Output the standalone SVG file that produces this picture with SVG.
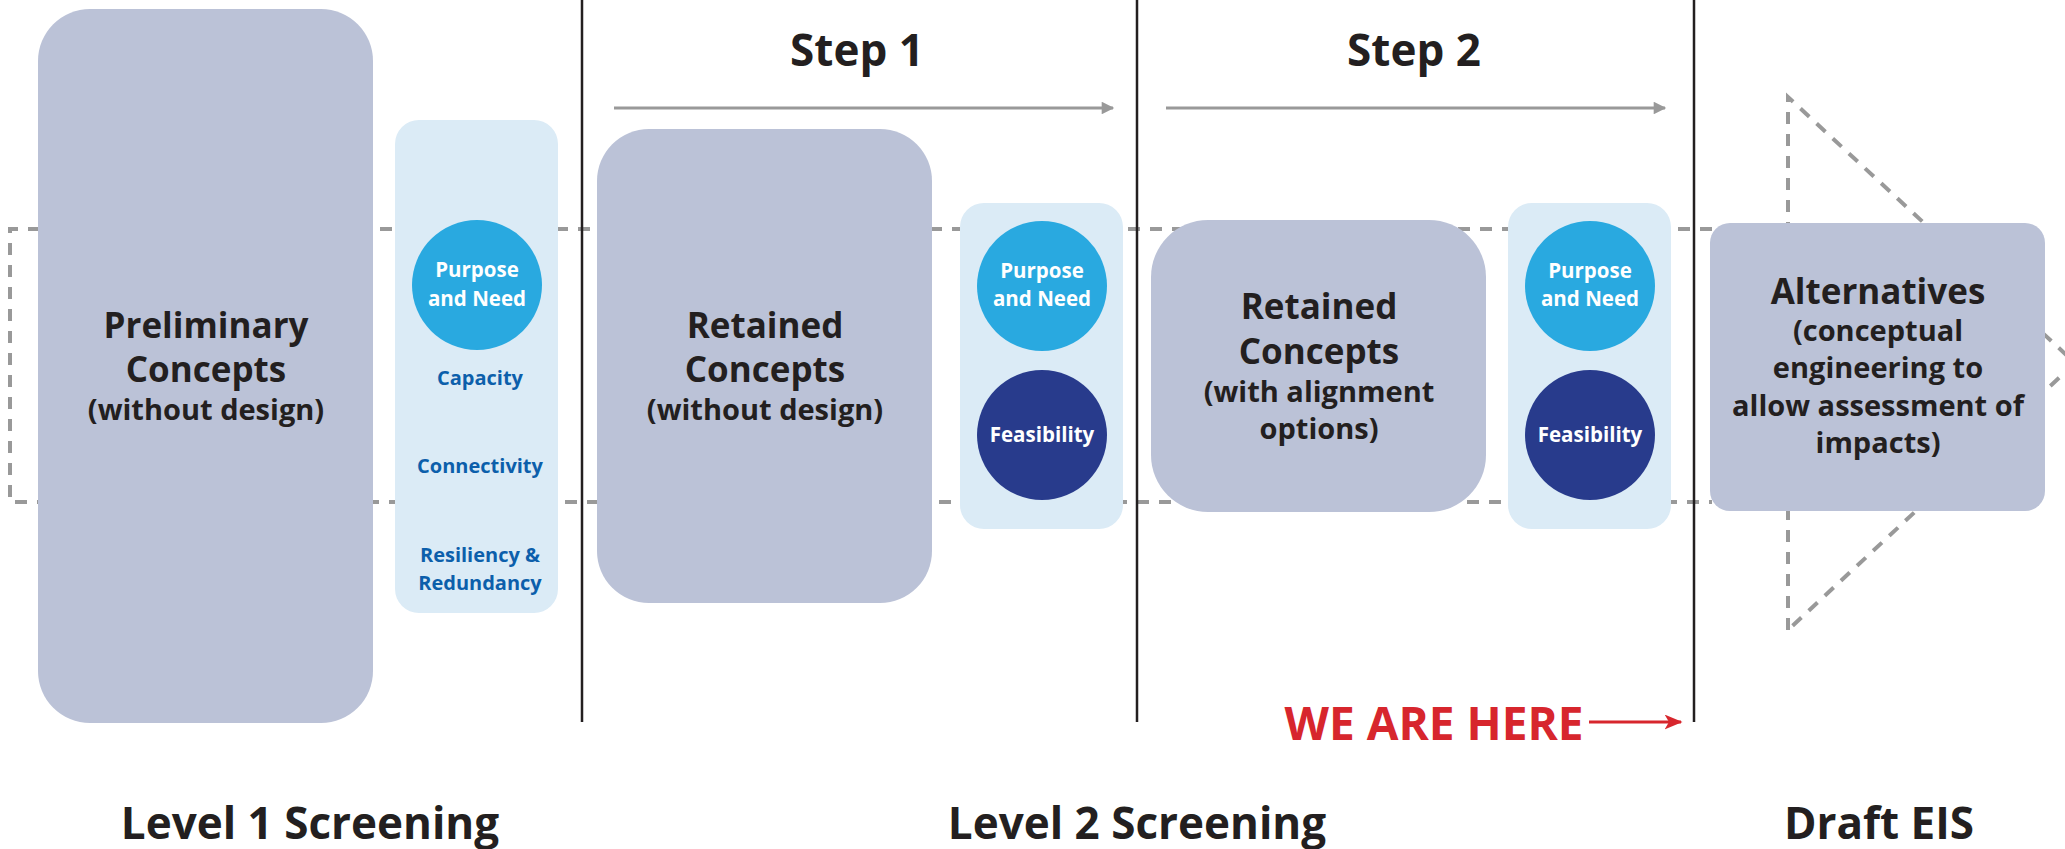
<svg xmlns="http://www.w3.org/2000/svg" width="2065" height="849" viewBox="0 0 2065 849">
  <style>
    text { font-family: "Open Sans", "Liberation Sans", sans-serif; font-weight: 700; text-anchor: middle; }
    .box { fill: #bbc2d7; }
    .panel { fill: #dbebf6; }
    .title { font-size: 35px; fill: #231f20; }
    .sub { font-size: 29px; fill: #231f20; }
    .head { font-size: 44px; fill: #231f20; }
    .crit { font-size: 20px; fill: #0c5fab; }
    .ctext { font-size: 20.5px; fill: #ffffff; }
    .pn { fill: #29a9e0; }
    .fe { fill: #283b8c; }
    .dash { fill: none; stroke: #999999; stroke-width: 4; stroke-dasharray: 12 10; }
    .divider { stroke: #231f20; stroke-width: 2.5; }
    .flow { stroke: #999999; stroke-width: 3; }
  </style>
  <defs>
    <marker id="grayHead" viewBox="0 0 10 10" refX="9" refY="5" markerWidth="6" markerHeight="4.2" orient="auto" markerUnits="strokeWidth">
      <path d="M0,0 L10,5 L0,10 Z" fill="#999999"/>
    </marker>
    <marker id="redHead" viewBox="0 0 12 10" refX="11" refY="5" markerWidth="6" markerHeight="5" orient="auto" markerUnits="strokeWidth">
      <path d="M0,0 L12,5 L0,10 L3,5 Z" fill="#d7262d"/>
    </marker>
  </defs>

  <rect width="2065" height="849" fill="#ffffff"/>

  <!-- connectors: dashed band, draft EIS wedge, step arrows, dividers -->
  <g id="connectors">
    <path class="dash" d="M1712,229 L10,229 L10,502 L1712,502"/>
    <path class="dash" d="M1788,630 L1788,97 L2075,363 Z"/>
    <line class="flow" x1="614" y1="108" x2="1113" y2="108" marker-end="url(#grayHead)"/>
    <line class="flow" x1="1166" y1="108" x2="1665" y2="108" marker-end="url(#grayHead)"/>
    <line class="divider" x1="582" y1="0" x2="582" y2="722"/>
    <line class="divider" x1="1137" y1="0" x2="1137" y2="722"/>
    <line class="divider" x1="1694" y1="0" x2="1694" y2="722"/>
    <line x1="1589" y1="722" x2="1681" y2="722" stroke="#d7262d" stroke-width="3" marker-end="url(#redHead)"/>
  </g>

  <!-- Level 1 -->
  <g id="preliminary-concepts">
    <rect class="box" x="38" y="9" width="335" height="714" rx="52"/>
    <text class="title" x="206" y="338">Preliminary</text>
    <text class="title" x="206" y="382">Concepts</text>
    <text class="sub" x="206" y="420">(without design)</text>
  </g>
  <g id="level1-criteria">
    <rect class="panel" x="395" y="120" width="163" height="493" rx="24"/>
    <circle class="pn" cx="477" cy="285" r="65"/>
    <text class="ctext" x="477" y="277">Purpose</text>
    <text class="ctext" x="477" y="306">and Need</text>
    <text class="crit" x="480" y="385">Capacity</text>
    <text class="crit" x="480" y="473">Connectivity</text>
    <text class="crit" x="480" y="562">Resiliency &amp;</text>
    <text class="crit" x="480" y="590">Redundancy</text>
  </g>

  <!-- Level 2, step 1 -->
  <g id="step1">
    <text class="head" x="857" y="66">Step 1</text>
  </g>
  <g id="retained-concepts-1">
    <rect class="box" x="597" y="129" width="335" height="474" rx="52"/>
    <text class="title" x="765" y="338">Retained</text>
    <text class="title" x="765" y="382">Concepts</text>
    <text class="sub" x="765" y="420">(without design)</text>
  </g>
  <g id="step1-criteria">
    <rect class="panel" x="960" y="203" width="163" height="326" rx="24"/>
    <circle class="pn" cx="1042" cy="286" r="65"/>
    <text class="ctext" x="1042" y="278">Purpose</text>
    <text class="ctext" x="1042" y="306">and Need</text>
    <circle class="fe" cx="1042" cy="435" r="65"/>
    <text class="ctext" x="1042" y="442">Feasibility</text>
  </g>

  <!-- Level 2, step 2 -->
  <g id="step2">
    <text class="head" x="1414" y="66">Step 2</text>
  </g>
  <g id="retained-concepts-2">
    <rect class="box" x="1151" y="220" width="335" height="292" rx="57"/>
    <text class="title" x="1319" y="319">Retained</text>
    <text class="title" x="1319" y="364">Concepts</text>
    <text class="sub" x="1319" y="402">(with alignment</text>
    <text class="sub" x="1319" y="439">options)</text>
  </g>
  <g id="step2-criteria">
    <rect class="panel" x="1508" y="203" width="163" height="326" rx="24"/>
    <circle class="pn" cx="1590" cy="286" r="65"/>
    <text class="ctext" x="1590" y="278">Purpose</text>
    <text class="ctext" x="1590" y="306">and Need</text>
    <circle class="fe" cx="1590" cy="435" r="65"/>
    <text class="ctext" x="1590" y="442">Feasibility</text>
  </g>

  <!-- Draft EIS -->
  <g id="alternatives">
    <rect class="box" x="1710" y="223" width="335" height="288" rx="20"/>
    <text class="title" x="1878" y="304">Alternatives</text>
    <text class="sub" x="1878" y="341">(conceptual</text>
    <text class="sub" x="1878" y="378">engineering to</text>
    <text class="sub" x="1878" y="416">allow assessment of</text>
    <text class="sub" x="1878" y="453">impacts)</text>
  </g>

  <g id="we-are-here">
    <text x="1434" y="740" font-size="46" fill="#d7262d">WE ARE HERE</text>
  </g>

  <g id="phase-labels">
    <text class="head" x="310" y="839">Level 1 Screening</text>
    <text class="head" x="1137" y="839">Level 2 Screening</text>
    <text class="head" x="1879" y="839">Draft EIS</text>
  </g>
</svg>
